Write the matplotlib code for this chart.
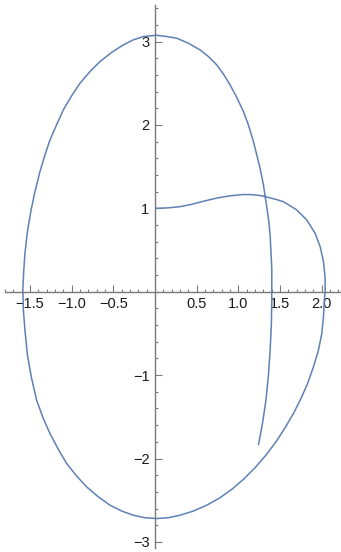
import matplotlib
matplotlib.use("Agg")
import numpy as np
import matplotlib.pyplot as plt
from matplotlib.ticker import FixedLocator, MultipleLocator

plt.rcParams['font.family'] = ['Liberation Sans', 'DejaVu Sans']

# points, in drawing order
curve_x = [0.00, 0.15, 0.30, 0.45, 0.60, 0.75, 0.90, 1.05, 1.15, 1.25, 1.32,
           1.44, 1.54, 1.70, 1.82, 1.92, 1.98, 2.02, 2.04, 2.04, 2.03, 2.02,
           2.00, 1.96, 1.90, 1.83, 1.75, 1.66, 1.56, 1.45, 1.33, 1.20, 1.06,
           0.92, 0.78, 0.62, 0.46, 0.30, 0.16, 0.02, -0.12, -0.26, -0.40,
           -0.54, -0.68, -0.82, -0.94, -1.06, -1.16, -1.26, -1.34, -1.42,
           -1.48, -1.53, -1.56, -1.58, -1.585, -1.575, -1.56, -1.53, -1.49,
           -1.44, -1.38, -1.32, -1.26, -1.19, -1.10, -1.00, -0.90, -0.78,
           -0.66, -0.52, -0.38, -0.26, -0.14, 0.02, 0.14, 0.26, 0.40, 0.54,
           0.64, 0.74, 0.82, 0.90, 0.98, 1.06, 1.12, 1.18, 1.22, 1.26, 1.30,
           1.33, 1.36, 1.38, 1.39, 1.40, 1.40, 1.40, 1.395, 1.38, 1.36, 1.33,
           1.29, 1.24]
curve_y = [1.00, 1.005, 1.02, 1.05, 1.09, 1.125, 1.15, 1.165, 1.165, 1.155,
           1.14, 1.11, 1.08, 0.98, 0.86, 0.70, 0.54, 0.36, 0.16, 0.00, -0.10,
           -0.30, -0.50, -0.70, -0.90, -1.10, -1.28, -1.46, -1.63, -1.80, -1.96,
           -2.11, -2.25, -2.37, -2.47, -2.56, -2.63, -2.68, -2.71, -2.72, -2.71,
           -2.68, -2.63, -2.56, -2.46, -2.34, -2.21, -2.06, -1.89, -1.70, -1.52,
           -1.30, -1.04, -0.76, -0.46, -0.20, 0.02, 0.24, 0.46, 0.72, 0.96,
           1.20, 1.44, 1.64, 1.82, 1.98, 2.18, 2.35, 2.50, 2.64, 2.76, 2.87,
           2.96, 3.02, 3.06, 3.075, 3.06, 3.04, 2.98, 2.90, 2.82, 2.72, 2.61,
           2.48, 2.33, 2.16, 2.00, 1.80, 1.64, 1.48, 1.28, 1.08, 0.88, 0.68,
           0.48, 0.28, 0.08, -0.10, -0.40, -0.70, -1.00, -1.30, -1.57, -1.84]

x_ticks = [-1.5, -1.0, -0.5, 0.5, 1.0, 1.5, 2.0]
x_labels = ['\u22121.5', '\u22121.0', '\u22120.5', '0.5', '1.0', '1.5', '2.0']
y_ticks = [-3, -2, -1, 1, 2, 3]
y_labels = ['\u22123', '\u22122', '\u22121', '1', '2', '3']

fig = plt.figure(figsize=(3.41, 5.52), dpi=100)
ax = fig.add_axes([0, 0, 1, 1])
ax.plot(curve_x, curve_y, color='#5E81B5', lw=1.1,
        solid_joinstyle='round', solid_capstyle='butt')

ax.set_xlim(-1.859, 2.230)
ax.set_ylim(-3.121, 3.498)
ax.set_aspect('equal')

for s in ['top', 'right']:
    ax.spines[s].set_visible(False)
for s in ['left', 'bottom']:
    ax.spines[s].set_position('zero')
    ax.spines[s].set_color('#7a7a7a')
    ax.spines[s].set_linewidth(1.0)
ax.spines['bottom'].set_bounds(-1.80, 2.22)
ax.spines['left'].set_bounds(-3.07, 3.44)

ax.xaxis.set_major_locator(FixedLocator(x_ticks))
ax.set_xticklabels(x_labels)
ax.yaxis.set_major_locator(FixedLocator(y_ticks))
ax.set_yticklabels(y_labels)
ax.xaxis.set_minor_locator(MultipleLocator(0.1))
ax.yaxis.set_minor_locator(MultipleLocator(0.2))

ax.tick_params(which='both', direction='in', color='#7a7a7a', width=0.8)
ax.tick_params(which='major', length=5, labelsize=10.5, labelcolor='#1a1a1a', pad=4)
ax.tick_params(which='minor', length=2.5)

fig.savefig('out.png', dpi=100)
